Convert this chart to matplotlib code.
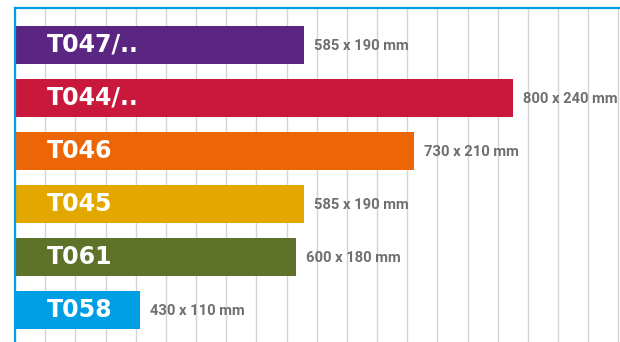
import matplotlib.pyplot as plt

# bar data, top to bottom
names = ['T047/..', 'T044/..', 'T046', 'T045', 'T061', 'T058']
sizes = ['585 x 190 mm', '800 x 240 mm', '730 x 210 mm',
         '585 x 190 mm', '600 x 180 mm', '430 x 110 mm']
lengths = [95.7, 165.2, 132.1, 95.7, 93.0, 41.4]
colors = ['#5B2682', '#C8193C', '#EC6608', '#E3A800', '#5F722A', '#009FE3']

blue = '#009FE3'

fig = plt.figure(figsize=(6.2, 3.42), dpi=100)
ax = fig.add_axes([15 / 620, 0, 605 / 620, 334 / 342])

ypos = list(range(len(names)))
ax.barh(ypos, lengths, height=0.73, color=colors, zorder=2)

for y, name, size, length in zip(ypos, names, sizes, lengths):
    ax.text(10.6, y, name, color='white', fontsize=17, fontweight='bold',
            family='DejaVu Sans', va='center', ha='left', zorder=3)
    ax.text(length + 3.3, y + 0.02, size, color='#6f6f6f', fontsize=10.6,
            fontweight='bold', family='Roboto', va='center', ha='left',
            zorder=3)

ax.set_xlim(0, 200.5)
ax.set_ylim(5.604, -0.698)
ax.set_xticks(range(0, 201, 10))
ax.set_yticks([])
ax.tick_params(axis='x', length=0, labelbottom=False)
ax.grid(axis='x', color='#d4d4d4', linewidth=1, zorder=0)
ax.set_axisbelow(True)

for side in ['right', 'bottom']:
    ax.spines[side].set_visible(False)
ax.spines['left'].set_color(blue)
ax.spines['left'].set_linewidth(1.6)
ax.spines['top'].set_color(blue)
ax.spines['top'].set_linewidth(1.6)

fig.savefig('out.png', dpi=100)
